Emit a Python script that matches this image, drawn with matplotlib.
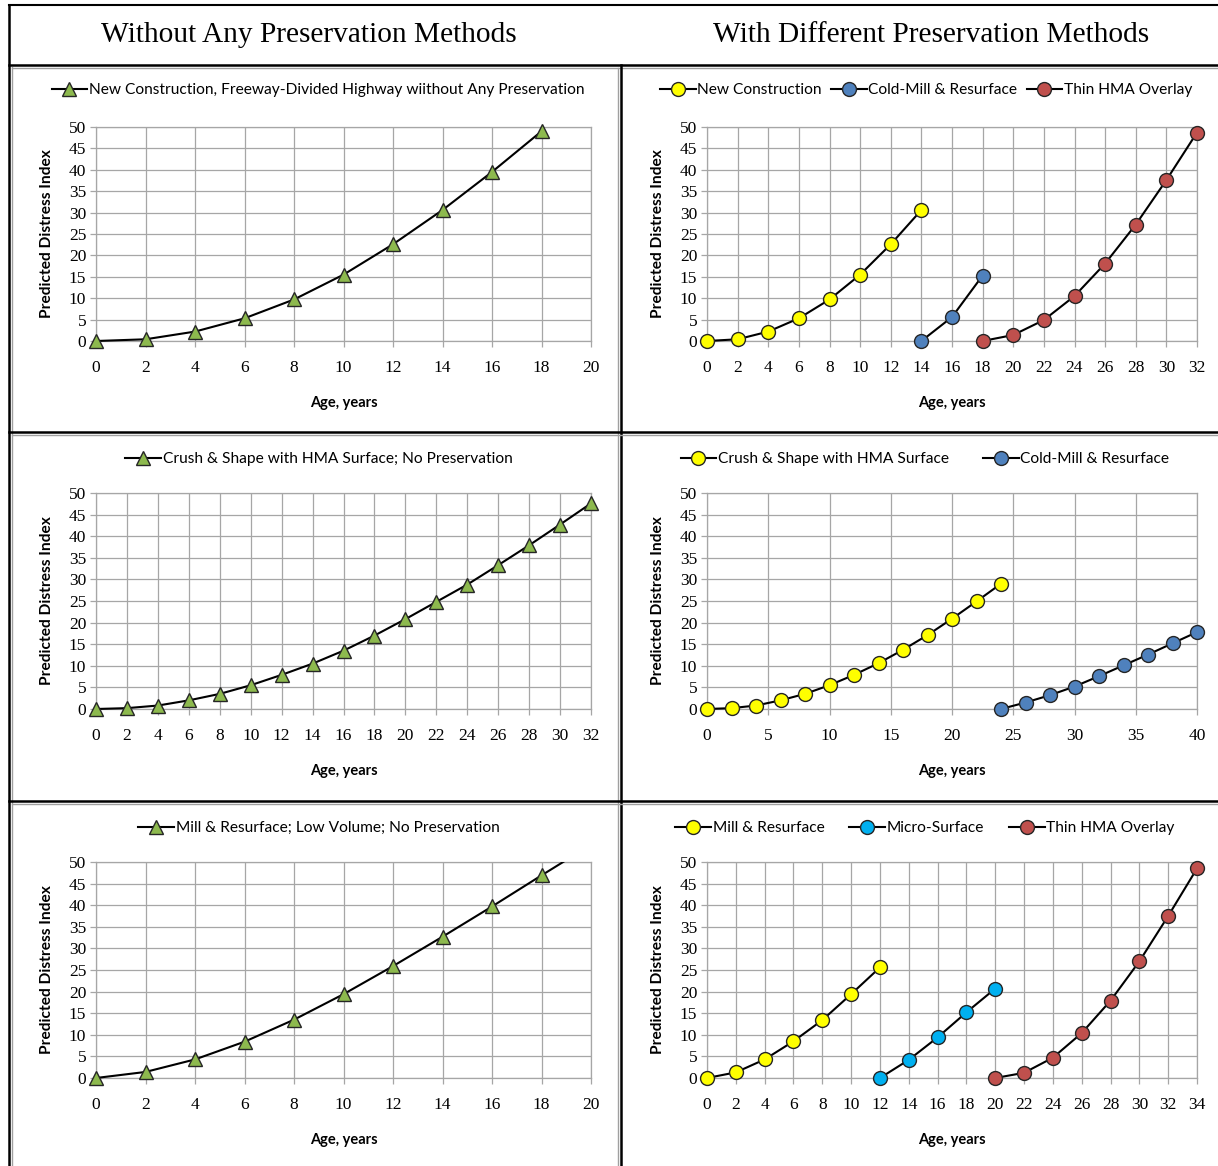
import numpy as np
import matplotlib
matplotlib.use("Agg")
import matplotlib.pyplot as plt
from matplotlib.lines import Line2D
from matplotlib.transforms import Bbox, TransformedBbox

# ---- data ----
# top row: new construction, freeway-divided highway
age_nc = [0, 2, 4, 6, 8, 10, 12, 14, 16, 18]
pdi_nc = [0, 0.4, 2.2, 5.3, 9.7, 15.5, 22.6, 30.6, 39.5, 49.0]

age_nc_p = [0, 2, 4, 6, 8, 10, 12, 14]
pdi_nc_p = [0, 0.4, 2.2, 5.3, 9.7, 15.5, 22.6, 30.6]
age_cm1 = [14, 16, 18]
pdi_cm1 = [0, 5.6, 15.3]
age_thin1 = [18, 20, 22, 24, 26, 28, 30, 32]
pdi_thin1 = [0, 1.4, 4.9, 10.5, 18.1, 27.2, 37.6, 48.7]

# middle row: crush & shape with HMA surface
age_cs = [0, 2, 4, 6, 8, 10, 12, 14, 16, 18, 20, 22, 24, 26, 28, 30, 32]
pdi_cs = [0, 0.2, 0.8, 2.0, 3.5, 5.5, 7.9, 10.5, 13.5, 17.0, 20.8, 24.8,
          28.8, 33.3, 37.9, 42.7, 47.6]

age_cs_p = [0, 2, 4, 6, 8, 10, 12, 14, 16, 18, 20, 22, 24]
pdi_cs_p = [0, 0.2, 0.8, 2.0, 3.5, 5.5, 7.9, 10.6, 13.7, 17.1, 20.9, 24.9, 29.0]
age_cm2 = [24, 26, 28, 30, 32, 34, 36, 38, 40]
pdi_cm2 = [0, 1.5, 3.2, 5.2, 7.6, 10.1, 12.6, 15.2, 17.8]

# bottom row: mill & resurface, low volume
age_mr = [0, 2, 4, 6, 8, 10, 12, 14, 16, 18, 20]
pdi_mr = [0, 1.4, 4.3, 8.4, 13.5, 19.4, 25.9, 32.7, 39.7, 46.9, 54.0]

age_mr_p = [0, 2, 4, 6, 8, 10, 12]
pdi_mr_p = [0, 1.3, 4.3, 8.5, 13.4, 19.4, 25.6]
age_ms = [12, 14, 16, 18, 20]
pdi_ms = [0, 4.2, 9.4, 15.2, 20.7]
age_thin3 = [20, 22, 24, 26, 28, 30, 32, 34]
pdi_thin3 = [0, 1.2, 4.7, 10.4, 17.9, 27.0, 37.5, 48.5]

W, H = 1218, 1166
GREEN = "#8DB94E"
YELLOW = "#FFFF00"
BLUE = "#4F81BD"
RED = "#C0504D"
CYAN = "#00B0F0"

SANS = ["Lato", "DejaVu Sans"]
SERIF = ["Liberation Serif", "DejaVu Serif"]

fig = plt.figure(figsize=(W / 100, H / 100), dpi=100)
fig.patch.set_facecolor("white")


def px_rect(x0, x1, ytop, ybot):
    return [x0 / W, 1 - ybot / H, (x1 - x0) / W, (ybot - ytop) / H]


def fig_line(xs, ys, color="black", lw=1.6):
    fig.add_artist(Line2D([x / W for x in xs], [1 - y / H for y in ys],
                          transform=fig.transFigure, color=color, lw=lw))


def make_panel(rect, xmax, xstep):
    ax = fig.add_axes(rect)
    ax.set_xlim(0, xmax)
    ax.set_ylim(0, 50)
    ax.set_xticks(np.arange(0, xmax + 0.1, xstep))
    ax.set_yticks(np.arange(0, 51, 5))
    ax.grid(True, color="#A6A6A6", lw=0.9)
    for s in ax.spines.values():
        s.set_color("#A6A6A6")
        s.set_linewidth(0.9)
    ax.tick_params(direction="out", length=4, width=0.9, color="#A6A6A6",
                   labelsize=12.5, pad=3)
    ax.tick_params(axis="x", pad=10)
    for lab in ax.get_xticklabels() + ax.get_yticklabels():
        lab.set_family(SERIF)
    ax.set_xlabel("Age, years", fontsize=10.5, fontweight="bold",
                  family=SANS, labelpad=14)
    ax.set_ylabel("Predicted Distress Index", fontsize=11.2, fontweight="bold",
                  family=SANS, labelpad=11)
    ax.set_axisbelow(True)
    return ax


def add_series(ax, x, y, label, face, marker="o", ms=10, clip_top=False):
    h, = ax.plot(x, y, color="black", lw=1.5, marker=marker, ms=ms,
                 mfc=face, mec="#262626", mew=1.0, label=label, zorder=3,
                 clip_on=False)
    if clip_top:
        # the last segment runs past 50 and is cut at the top edge
        box = TransformedBbox(Bbox([[-0.1, -0.1], [1.1, 1.0]]), ax.transAxes)
        h.set_clip_box(box)
        h.set_clip_on(True)
    return h


def add_legend(ax, cx, cy, ncol, colspace):
    ax.legend(loc="center", bbox_to_anchor=(cx / W, 1 - cy / H),
              bbox_transform=fig.transFigure, ncol=ncol, frameon=False,
              prop={"family": SANS, "size": 11.2}, handlelength=2.3,
              handletextpad=0.1, columnspacing=colspace, borderaxespad=0)


# ---- row 1 ----
ax1 = make_panel(px_rect(96, 591, 127, 341), 20, 2)
add_series(ax1, age_nc, pdi_nc,
           "New Construction, Freeway-Divided Highway wiithout Any Preservation",
           GREEN, marker="^", ms=10.5)
add_legend(ax1, 318, 90, 1, 1.0)

ax2 = make_panel(px_rect(707, 1197, 127, 341), 32, 2)
add_series(ax2, age_nc_p, pdi_nc_p, "New Construction", YELLOW)
add_series(ax2, age_cm1, pdi_cm1, "Cold-Mill & Resurface", BLUE)
add_series(ax2, age_thin1, pdi_thin1, "Thin HMA Overlay", RED)
add_legend(ax2, 926, 90, 3, 0.6)

# ---- row 2 ----
ax3 = make_panel(px_rect(96, 591, 493, 709), 32, 2)
add_series(ax3, age_cs, pdi_cs,
           "Crush & Shape with HMA Surface; No Preservation",
           GREEN, marker="^", ms=10.5)
add_legend(ax3, 319, 459, 1, 1.0)

ax4 = make_panel(px_rect(707, 1197, 493, 709), 40, 5)
add_series(ax4, age_cs_p, pdi_cs_p, "Crush & Shape with HMA Surface", YELLOW)
add_series(ax4, age_cm2, pdi_cm2, "Cold-Mill & Resurface", BLUE)
add_legend(ax4, 925, 459, 2, 2.2)

# ---- row 3 ----
ax5 = make_panel(px_rect(96, 591, 862, 1078), 20, 2)
add_series(ax5, age_mr, pdi_mr,
           "Mill & Resurface; Low Volume; No Preservation",
           GREEN, marker="^", ms=10.5, clip_top=True)
add_legend(ax5, 319, 828, 1, 1.0)

ax6 = make_panel(px_rect(707, 1197, 862, 1078), 34, 2)
add_series(ax6, age_mr_p, pdi_mr_p, "Mill & Resurface", YELLOW)
add_series(ax6, age_ms, pdi_ms, "Micro-Surface", CYAN)
add_series(ax6, age_thin3, pdi_thin3, "Thin HMA Overlay", RED)
add_legend(ax6, 925, 828, 3, 1.6)

# ---- table frame and column headers ----
fig.text(309 / W, 1 - 35 / H, "Without Any Preservation Methods",
         ha="center", va="center", fontsize=21.2, family=SERIF)
fig.text(931 / W, 1 - 35 / H, "With Different Preservation Methods",
         ha="center", va="center", fontsize=21.2, family=SERIF)

fig_line([9, 9], [5, H], lw=1.8)
fig_line([12, 12], [67, H], color="#A0A0A0", lw=1.0)
fig_line([9, W], [5, 5], lw=1.5)
fig_line([9, W], [65, 65], lw=1.8)
fig_line([12, W], [68, 68], color="#A0A0A0", lw=1.0)
fig_line([621, 621], [65, H], lw=1.8)
fig_line([618, 618], [68, H], color="#A0A0A0", lw=1.0)
for yy in (432, 801):
    fig_line([9, W], [yy, yy], lw=1.8)
    fig_line([12, W], [yy + 3, yy + 3], color="#A0A0A0", lw=1.0)

fig.savefig("out.png", dpi=100, facecolor="white")
